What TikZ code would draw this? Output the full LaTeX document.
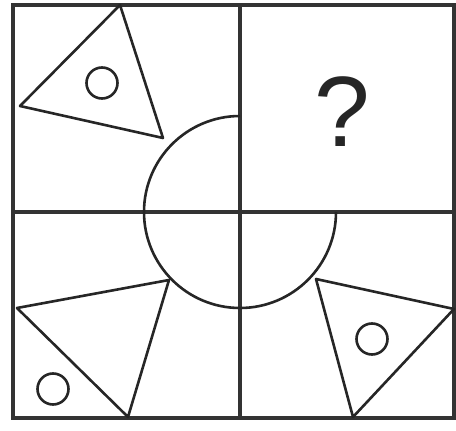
\documentclass[tikz,border=0pt]{standalone}
\usepackage{fontspec}
\setmainfont{Liberation Sans}
\begin{document}
\begin{tikzpicture}[x=1pt,y=-1pt,
  frameline/.style={draw=black!80, line width=3.2pt},
  shapeline/.style={draw=black!85, line width=2.6pt, line join=round}]
\useasboundingbox (0,0) rectangle (456,431);
\fill[white] (0,0) rectangle (456,431);
% grid
\draw[frameline] (13,5) rectangle (454,418);
\draw[frameline] (240,5) -- (240,418);
\draw[frameline] (13,212) -- (454,212);
% three-quarter circle
\draw[shapeline] (240,116) arc[start angle=-90, end angle=-360, radius=96];
% top-left triangle
\draw[shapeline] (120,5) -- (20,106) -- (163,138) -- cycle;
\draw[shapeline] (102,83) circle[radius=15.5];
% bottom-left triangle
\draw[shapeline] (17,308) -- (169,280) -- (128,417) -- cycle;
\draw[shapeline] (53,389) circle[radius=15.5];
% bottom-right triangle
\draw[shapeline] (316,279) -- (454,309) -- (353,417) -- cycle;
\draw[shapeline] (372,339) circle[radius=15.5];
% question mark
\node[text=black!85] (q) at (342,112) {\fontsize{100}{100}\selectfont ?};
\end{tikzpicture}
\end{document}
